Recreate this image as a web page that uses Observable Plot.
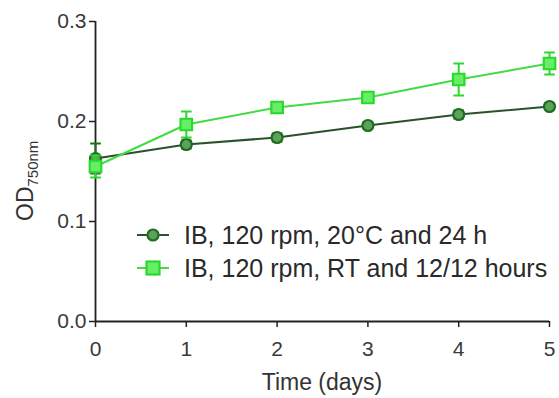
<!DOCTYPE html>
<html>
<head>
<meta charset="utf-8">
<script src="https://cdn.jsdelivr.net/npm/d3@7"></script>
<script src="https://cdn.jsdelivr.net/npm/@observablehq/plot@0.6"></script>
<style>
  html, body { margin: 0; padding: 0; background: #fff; }
  #chart svg { display: block; font-family: "Liberation Sans", Arial, sans-serif; }
</style>
</head>
<body>
<div id="chart"></div>
<script>
// Growth of cultures (OD at 750 nm) over five days under two conditions
const days = [0, 1, 2, 3, 4, 5];
const seriesNames = ["IB, 120 rpm, 20°C and 24 h", "IB, 120 rpm, RT and 12/12 hours"];
const meanA = [0.163, 0.177, 0.184, 0.196, 0.207, 0.215];
const errA  = [0.015, 0.004, 0.004, 0.003, 0.004, 0.003];
const meanB = [0.155, 0.197, 0.214, 0.224, 0.242, 0.258];
const errB  = [0.011, 0.013, 0.005, 0.004, 0.016, 0.011];
const xTicks = [0, 1, 2, 3, 4, 5];
const yTicks = [0, 0.1, 0.2, 0.3];

const colorA = { line: "#2a522a", stroke: "#1d6e1d", fill: "#5f9f5f" };
const colorB = { line: "#42dc42", stroke: "#2bd82b", fill: "#66ee66" };

const rowsA = days.map((d, i) => ({ day: d, mean: meanA[i], lo: meanA[i] - errA[i], hi: meanA[i] + errA[i] }));
const rowsB = days.map((d, i) => ({ day: d, mean: meanB[i], lo: meanB[i] - errB[i], hi: meanB[i] + errB[i] }));

// horizontal bar symbol used for error-bar caps
const capSymbol = {
  draw(context, size) {
    const w = Math.sqrt(size) / 2;
    context.moveTo(-w, 0);
    context.lineTo(w, 0);
  }
};

function seriesMarks(rows, c, symbol, r) {
  return [
    Plot.ruleX(rows, { x: "day", y1: "lo", y2: "hi", stroke: c.stroke, strokeWidth: 2 }),
    Plot.dot(rows, { x: "day", y: "lo", symbol: capSymbol, r: 6, stroke: c.stroke, strokeWidth: 2, fill: "none" }),
    Plot.dot(rows, { x: "day", y: "hi", symbol: capSymbol, r: 6, stroke: c.stroke, strokeWidth: 2, fill: "none" }),
    Plot.line(rows, { x: "day", y: "mean", stroke: c.line, strokeWidth: 2 }),
    Plot.dot(rows, { x: "day", y: "mean", symbol, r, stroke: c.stroke, fill: c.fill, strokeWidth: 2.2 })
  ];
}

const chart = Plot.plot({
  width: 559,
  height: 398,
  marginLeft: 95,
  marginRight: 10,
  marginTop: 21,
  marginBottom: 77,
  style: { fontFamily: "Liberation Sans, Arial, sans-serif", fontSize: "21px", color: "#333", background: "#fff" },
  x: { domain: [0, 5] },
  y: { domain: [0, 0.3] },
  marks: [
    Plot.axisX(xTicks, { tickSize: 6, tickPadding: 14, label: null, stroke: "#222", strokeWidth: 1.5, fontSize: 21, fill: "#3a3a3a" }),
    Plot.axisY(yTicks, { tickSize: 6, tickPadding: 3, tickFormat: ".1f", label: null, stroke: "#222", strokeWidth: 1.5, fontSize: 21, fill: "#3a3a3a" }),
    Plot.ruleY([0], { stroke: "#222", strokeWidth: 1.8 }),
    Plot.ruleX([0], { stroke: "#222", strokeWidth: 1.8 }),
    ...seriesMarks(rowsA, colorA, "circle", 5.5),
    ...seriesMarks(rowsB, colorB, "square", 6.5)
  ]
});

document.getElementById("chart").appendChild(chart);

const svg = d3.select(chart);
const xs = chart.scale("x");
const ys = chart.scale("y");
const xMid = (xs.range[0] + xs.range[1]) / 2;

// x axis title
svg.append("text")
  .attr("x", xMid)
  .attr("y", ys.range[0] + 69)
  .attr("text-anchor", "middle")
  .attr("font-size", 23)
  .attr("fill", "#333")
  .text("Time (days)");

// y axis title with subscript
const yt = svg.append("text")
  .attr("transform", "translate(33,221) rotate(-90)")
  .attr("text-anchor", "start")
  .attr("font-size", 23)
  .attr("fill", "#333");
yt.append("tspan").text("OD");
yt.append("tspan").attr("font-size", 15).attr("dy", 5).text("750nm");

// legend
const legend = svg.append("g").attr("transform", "translate(137,235)");
const entries = [
  { name: seriesNames[0], c: colorA, shape: "circle" },
  { name: seriesNames[1], c: colorB, shape: "square" }
];
entries.forEach((e, i) => {
  const g = legend.append("g").attr("transform", `translate(0,${i * 33})`);
  g.append("line").attr("x1", 0).attr("x2", 32).attr("y1", 0).attr("y2", 0)
    .attr("stroke", e.c.line).attr("stroke-width", 2);
  if (e.shape === "circle") {
    g.append("circle").attr("cx", 16).attr("cy", 0).attr("r", 5.5)
      .attr("fill", e.c.fill).attr("stroke", e.c.stroke).attr("stroke-width", 2.2);
  } else {
    g.append("rect").attr("x", 9.5).attr("y", -6.5).attr("width", 13).attr("height", 13)
      .attr("fill", e.c.fill).attr("stroke", e.c.stroke).attr("stroke-width", 2.2);
  }
  g.append("text").attr("x", 47).attr("y", 0).attr("dy", "0.35em")
    .attr("text-anchor", "start")
    .attr("font-size", 25).attr("fill", "#2a2a2a").text(e.name);
});
</script>
</body>
</html>
